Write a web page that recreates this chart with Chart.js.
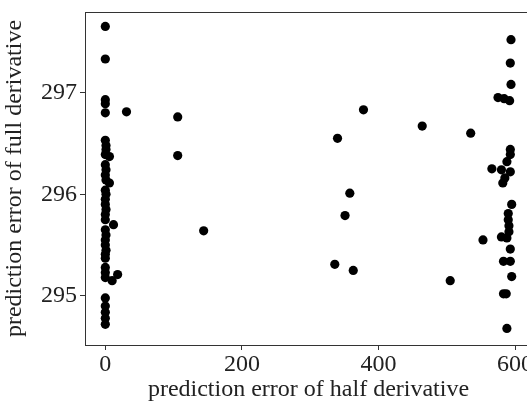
<!DOCTYPE html>
<html>
<head>
<meta charset="utf-8">
<script src="https://cdn.jsdelivr.net/npm/chart.js@4"></script>
<style>
  html, body { margin: 0; padding: 0; background: #fff; overflow: hidden; }
  #wrap { width: 560px; height: 401px; position: relative; }
</style>
</head>
<body>
<div id="wrap"><canvas id="scatter"></canvas></div>
<script>
// prediction error of half derivative
const halfErr = [
  0, 0, 0, 0, 0, 31, 0, 1, 1, 0, 6, 0, 1, 0, 1, 6, 0, 1, 0, 0, 1, 0, 0, 12,
  0, 1, 0, 0, 1, 0, 0, 0, 0, 0, 10, 18, 0, 0, 0, 0, 0,
  106, 106, 144, 378, 340, 358, 351, 336, 363, 464, 535, 553, 505,
  594, 593, 594, 575, 584, 592, 593, 593, 588, 566, 580, 593, 585, 582,
  595, 590, 590, 591, 591, 580, 588, 593, 583, 593, 595, 583, 587, 588
];
// prediction error of full derivative
const fullErr = [
  297.65, 297.33, 296.93, 296.89, 296.80, 296.81, 296.53, 296.48, 296.44, 296.39, 296.37,
  296.29, 296.24, 296.19, 296.14, 296.11, 296.04, 296.00, 295.95, 295.90, 295.85, 295.80,
  295.75, 295.70, 295.65, 295.60, 295.55, 295.50, 295.45, 295.41, 295.37, 295.28, 295.23,
  295.18, 295.15, 295.21, 294.98, 294.90, 294.84, 294.78, 294.72,
  296.76, 296.38, 295.64, 296.83, 296.55, 296.01, 295.79, 295.31, 295.25, 296.67, 296.60,
  295.55, 295.15,
  297.52, 297.29, 297.08, 296.95, 296.94, 296.92, 296.44, 296.39, 296.32, 296.25, 296.24,
  296.22, 296.16, 296.11, 295.90, 295.81, 295.75, 295.69, 295.63, 295.58, 295.57, 295.46,
  295.34, 295.34, 295.19, 295.02, 295.02, 294.68
];
const xTicks = [0, 200, 400, 600];
const yTicks = [295, 296, 297];

const points = halfErr.map((x, i) => ({ x: x, y: fullErr[i] }));

const serif = "'Liberation Serif', 'Times New Roman', serif";
const axisColor = '#333';

const ctx = document.getElementById('scatter');

new Chart(ctx, {
    type: 'scatter',
    data: {
        datasets: [{
            data: points,
            backgroundColor: '#000',
            borderColor: '#000',
            borderWidth: 0,
            pointRadius: 4.6,
            pointHoverRadius: 4.6
        }]
    },
    options: {
        responsive: true,
        maintainAspectRatio: false,
        animation: false,
        layout: { padding: { left: 0, right: 28, top: 12, bottom: 0 } },
        plugins: {
            legend: { display: false },
            tooltip: { enabled: false }
        },
        scales: {
            x: {
                type: 'linear',
                position: 'bottom',
                min: -29.75,
                max: 624.75,
                afterBuildTicks: scale => { scale.ticks = xTicks.map(v => ({ value: v })); },
                afterFit: scale => {
                    scale.height = 56;
                    scale.paddingLeft = 0;
                    scale.paddingRight = 0;
                },
                border: { display: true, color: axisColor, width: 1 },
                grid: { drawOnChartArea: false, drawTicks: true, tickLength: 5, color: axisColor },
                ticks: { color: '#222', font: { family: serif, size: 24 }, padding: 0, maxRotation: 0 },
                title: {
                    display: true,
                    text: 'prediction error of half derivative',
                    color: '#222',
                    font: { family: serif, size: 24 },
                    padding: { top: 0, bottom: -3 }
                }
            },
            xTop: {
                type: 'linear',
                position: 'top',
                min: -29.75,
                max: 624.75,
                afterFit: scale => { scale.height = 0; },
                border: { display: true, color: axisColor, width: 1 },
                grid: { display: false },
                ticks: { display: false }
            },
            y: {
                type: 'linear',
                min: 294.517,
                max: 297.792,
                afterBuildTicks: scale => { scale.ticks = yTicks.map(v => ({ value: v })); },
                afterFit: scale => {
                    scale.width = 85;
                    scale.paddingTop = 0;
                    scale.paddingBottom = 0;
                },
                border: { display: true, color: axisColor, width: 1 },
                grid: { drawOnChartArea: false, drawTicks: true, tickLength: 5, color: axisColor },
                ticks: { color: '#222', font: { family: serif, size: 24 }, padding: 3 },
                title: {
                    display: true,
                    text: 'prediction error of full derivative',
                    color: '#222',
                    font: { family: serif, size: 24 },
                    padding: { top: 0, bottom: 0 }
                }
            }
        }
    }
});
</script>
</body>
</html>
